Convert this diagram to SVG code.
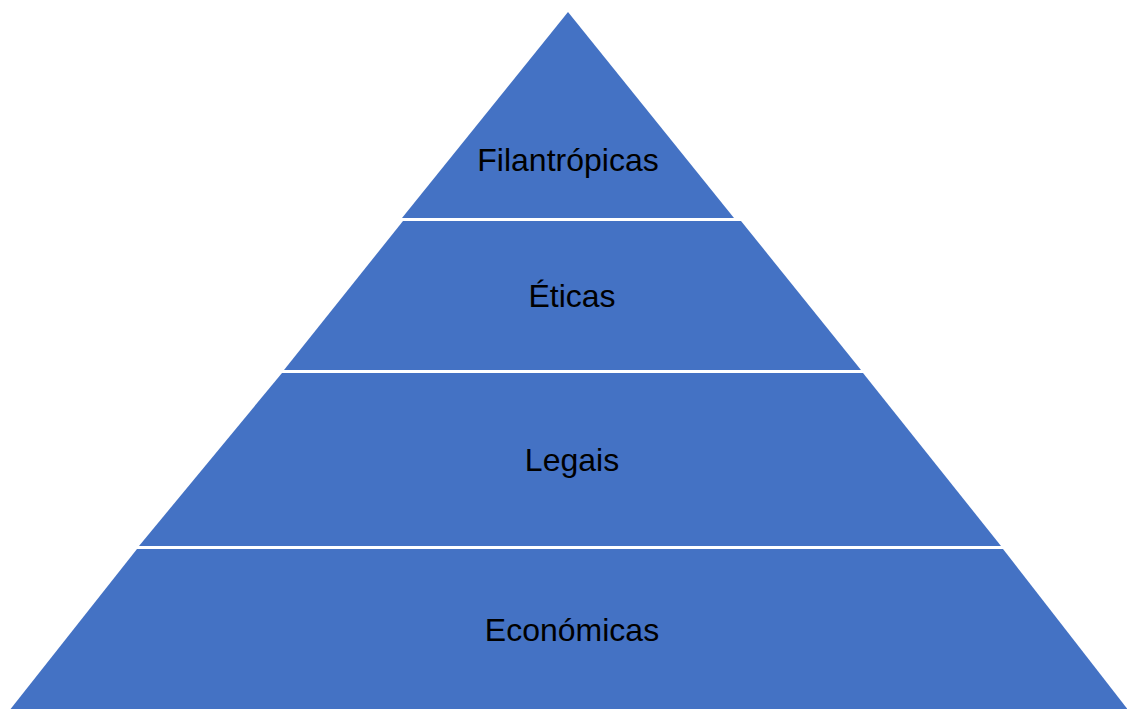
<svg xmlns="http://www.w3.org/2000/svg" width="1127" height="709" viewBox="0 0 1127 709">
<style>
.layer{fill:#4472C4;}
.lbl{font-family:"Liberation Sans",Arial,sans-serif;font-size:32px;fill:#000;text-anchor:middle;}
</style>
<rect width="1127" height="709" fill="#fff"/>
<g id="filantropicas">
<polygon class="layer" points="568,12 734,218 402,218"/>
<text class="lbl" x="568" y="171">Filantrópicas</text>
</g>
<g id="eticas">
<polygon class="layer" points="403,221 741,221 861,370 284,370"/>
<text class="lbl" x="572" y="307">Éticas</text>
</g>
<g id="legais">
<polygon class="layer" points="282,373 863,373 1001,546 139,546"/>
<text class="lbl" x="572" y="471">Legais</text>
</g>
<g id="economicas">
<polygon class="layer" points="137,549 1003,549 1129,711 9,711"/>
<text class="lbl" x="572" y="641">Económicas</text>
</g>
</svg>
